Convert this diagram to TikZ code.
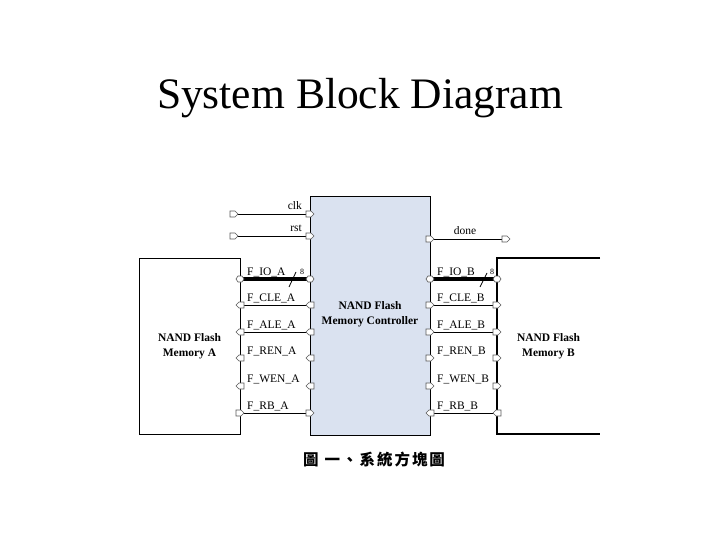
\documentclass[tikz,border=0pt]{standalone}
\usepackage{fontspec}
\setmainfont{Liberation Serif}
\newfontfamily\cjk{Noto Sans CJK TC}
\definecolor{ctrlfill}{RGB}{218,226,240}
\definecolor{portgray}{RGB}{90,90,90}
\newcommand\cjc[1]{\makebox[17.5pt]{#1}}
\tikzset{
  sig/.style={line width=0.8pt, black},
  bus/.style={line width=3.5pt, black},
  membox/.style={draw, line width=1.1pt, fill=white, inner sep=0pt},
  ctrlbox/.style={draw, line width=1.4pt, fill=ctrlfill, inner sep=0pt},
  lbl/.style={font=\fontsize{11.5}{13}\selectfont, inner sep=0pt},
  boldlbl/.style={font=\bfseries\fontsize{11.5}{15}\selectfont, align=center, inner sep=0pt},
  portline/.style={draw=portgray, line width=0.6pt, fill=white},
  portR/.pic={\path[portline] (-4,-3) -- (1,-3) -- (4,0) -- (1,3) -- (-4,3) -- cycle;},
  portL/.pic={\path[portline] (4,-3) -- (-1,-3) -- (-4,0) -- (-1,3) -- (4,3) -- cycle;},
  portB/.pic={\path[portline] (-4,0) -- (-2,-3) -- (2,-3) -- (4,0) -- (2,3) -- (-2,3) -- cycle;}
}
\begin{document}
\begin{tikzpicture}[x=1pt,y=-1pt]
\useasboundingbox (0,0) rectangle (720,540);
\fill[white] (0,0) rectangle (720,540);

\node[font=\fontsize{43.5}{50}\selectfont, anchor=base] (title) at (360,109) {System Block Diagram};

% controller
\node[ctrlbox, minimum width=120pt, minimum height=239pt, anchor=north west] (ctrl) at (310,196) {};
\node[boldlbl] (ctrltext) at (370,314) {NAND Flash\\Memory Controller};

% memory A
\node[membox, minimum width=101pt, minimum height=176pt, anchor=north west] (memA) at (139,258) {};
\node[boldlbl] (memAtext) at (189.5,346) {NAND Flash\\Memory A};

% memory B (open on the right)
\draw[line width=1.1pt] (600,258) -- (497,258) -- (497,434) -- (600,434);
\node[boldlbl] (memBtext) at (548.5,346) {NAND Flash\\Memory B};

% ports and labels
\foreach \i/\y/\n in {1/279/IO,2/305/CLE,3/332/ALE,4/358/REN,5/386/WEN,6/413/RB} {
  \coordinate (mA\i) at (240,\y);
  \coordinate (cA\i) at (310,\y);
  \coordinate (cB\i) at (430,\y);
  \coordinate (mB\i) at (497,\y);
  \node[lbl, anchor=base west] (lA\i) at (247,\y-4) {F\_\n\_A};
  \node[lbl, anchor=base west] (lB\i) at (437,\y-4) {F\_\n\_B};
}

\draw[bus] (mA1) -- (cA1);
\draw[bus] (cB1) -- (mB1);
\foreach \i in {2,3,6} {
  \draw[sig] (mA\i) -- (cA\i);
  \draw[sig] (cB\i) -- (mB\i);
}

% bus width marks
\draw[sig] (289,287) -- (296,272);
\node[font=\fontsize{8}{9}\selectfont, inner sep=0pt] (wA) at (302,272) {8};
\draw[sig] (480,287) -- (487,273);
\node[font=\fontsize{8}{9}\selectfont, inner sep=0pt] (wB) at (492,272) {8};

% clk, rst, done
\coordinate (clkin) at (234,214);
\coordinate (clkc) at (310,214);
\coordinate (rstin) at (234,236);
\coordinate (rstc) at (310,236);
\coordinate (donec) at (430,239);
\coordinate (doneout) at (506,239);
\draw[sig] (clkin) -- (clkc);
\draw[sig] (rstin) -- (rstc);
\draw[sig] (donec) -- (doneout);
\node[lbl, anchor=base east] (clkl) at (302,210) {clk};
\node[lbl, anchor=base east] (rstl) at (302,232) {rst};
\node[lbl, anchor=base] (donel) at (465,235) {done};

\pic at (clkin) {portR};
\pic at (clkc) {portR};
\pic at (rstin) {portR};
\pic at (rstc) {portR};
\pic at (donec) {portR};
\pic at (doneout) {portR};

\pic at (mA1) {portB};
\pic at (cA1) {portB};
\pic at (cB1) {portB};
\pic at (mB1) {portB};
\foreach \i in {2,3,4,5} {
  \pic at (mA\i) {portL};
  \pic at (cA\i) {portL};
  \pic at (cB\i) {portR};
  \pic at (mB\i) {portR};
}
\pic at (mA6) {portR};
\pic at (cA6) {portR};
\pic at (cB6) {portL};
\pic at (mB6) {portL};

% caption
\node[font=\cjk\bfseries\fontsize{15.5}{17}\selectfont, inner sep=0pt] (caption) at (374,460)
  {\cjc{圖}\hspace{4pt}\cjc{一}\cjc{、}\cjc{系}\cjc{統}\cjc{方}\cjc{塊}\cjc{圖}};
\end{tikzpicture}
\end{document}
